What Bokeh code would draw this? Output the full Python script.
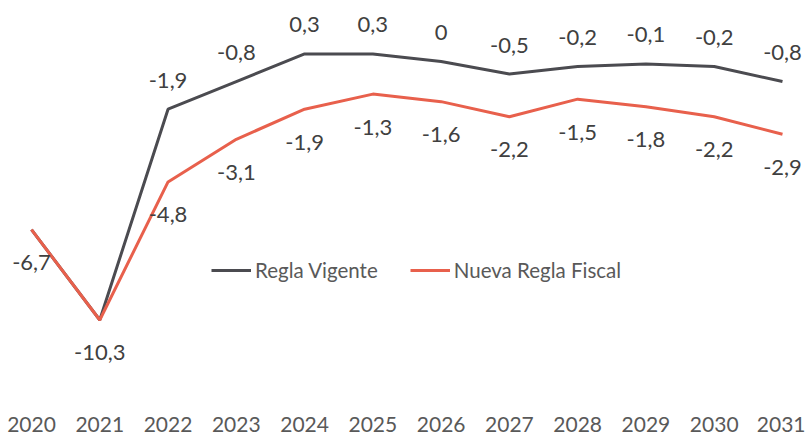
from bokeh.plotting import figure
from bokeh.models import ColumnDataSource, FixedTicker, Legend, LegendItem, Range1d
from bokeh.core.properties import value
from bokeh.embed import file_html
from bokeh.resources import INLINE

years = [2020, 2021, 2022, 2023, 2024, 2025, 2026, 2027, 2028, 2029, 2030, 2031]
vigente = [-6.7, -10.3, -1.9, -0.8, 0.3, 0.3, 0.0, -0.5, -0.2, -0.1, -0.2, -0.8]
nueva = [-6.7, -10.3, -4.8, -3.1, -1.9, -1.3, -1.6, -2.2, -1.5, -1.8, -2.2, -2.9]
series_names = ["Regla Vigente", "Nueva Regla Fiscal"]

FONT = "Lato"
DARK = "#4b4b50"
RED = "#e8604c"
TXT = "#404040"

def fmt(v):
    s = ("%.1f" % v).replace(".", ",")
    if s.endswith(",0"):
        s = s[:-2]
    if s == "-0":
        s = "0"
    return s

p = figure(width=805, height=437, output_backend="svg", toolbar_location=None,
           x_range=Range1d(2019.546, 2031.337), y_range=Range1d(-12.91, 2.43),
           min_border_left=0, min_border_right=0, min_border_top=0, min_border_bottom=52)
p.outline_line_color = None
p.background_fill_color = "white"
p.border_fill_color = "white"
p.grid.visible = False
p.yaxis.visible = False

xa = p.xaxis[0]
xa.ticker = FixedTicker(ticks=years)
xa.axis_line_color = None
xa.major_tick_line_color = None
xa.minor_tick_line_color = None
xa.major_label_text_font = FONT
xa.major_label_text_font_size = "21px"
xa.major_label_text_color = "#595959"
xa.major_label_standoff = 25

src_v = ColumnDataSource(dict(x=years, y=vigente))
src_n = ColumnDataSource(dict(x=years, y=nueva, t=[fmt(v) for v in nueva]))

r_v = p.line("x", "y", source=src_v, line_color=DARK, line_width=3)
r_n = p.line("x", "y", source=src_n, line_color=RED, line_width=3)

lab_v = ColumnDataSource(dict(x=years[2:], y=vigente[2:], t=[fmt(v) for v in vigente[2:]]))
p.text("x", "y", text="t", source=lab_v, text_font=value(FONT), text_font_size="22px",
       text_color=TXT, text_align="center", text_baseline="middle", y_offset=-29)
p.text("x", "y", text="t", source=src_n, text_font=value(FONT), text_font_size="22px",
       text_color=TXT, text_align="center", text_baseline="middle", y_offset=33)

legend = Legend(items=[LegendItem(label=series_names[0], renderers=[r_v]),
                       LegendItem(label=series_names[1], renderers=[r_n])],
                orientation="horizontal", location=(211, 103),
                label_text_font=FONT, label_text_font_size="20.5px", label_text_color="#595959",
                glyph_width=40, glyph_height=20, label_standoff=4, spacing=32,
                padding=0, margin=0, border_line_color=None, background_fill_alpha=0)
p.add_layout(legend, "center")

open("out.html", "w").write(file_html(p, INLINE))
